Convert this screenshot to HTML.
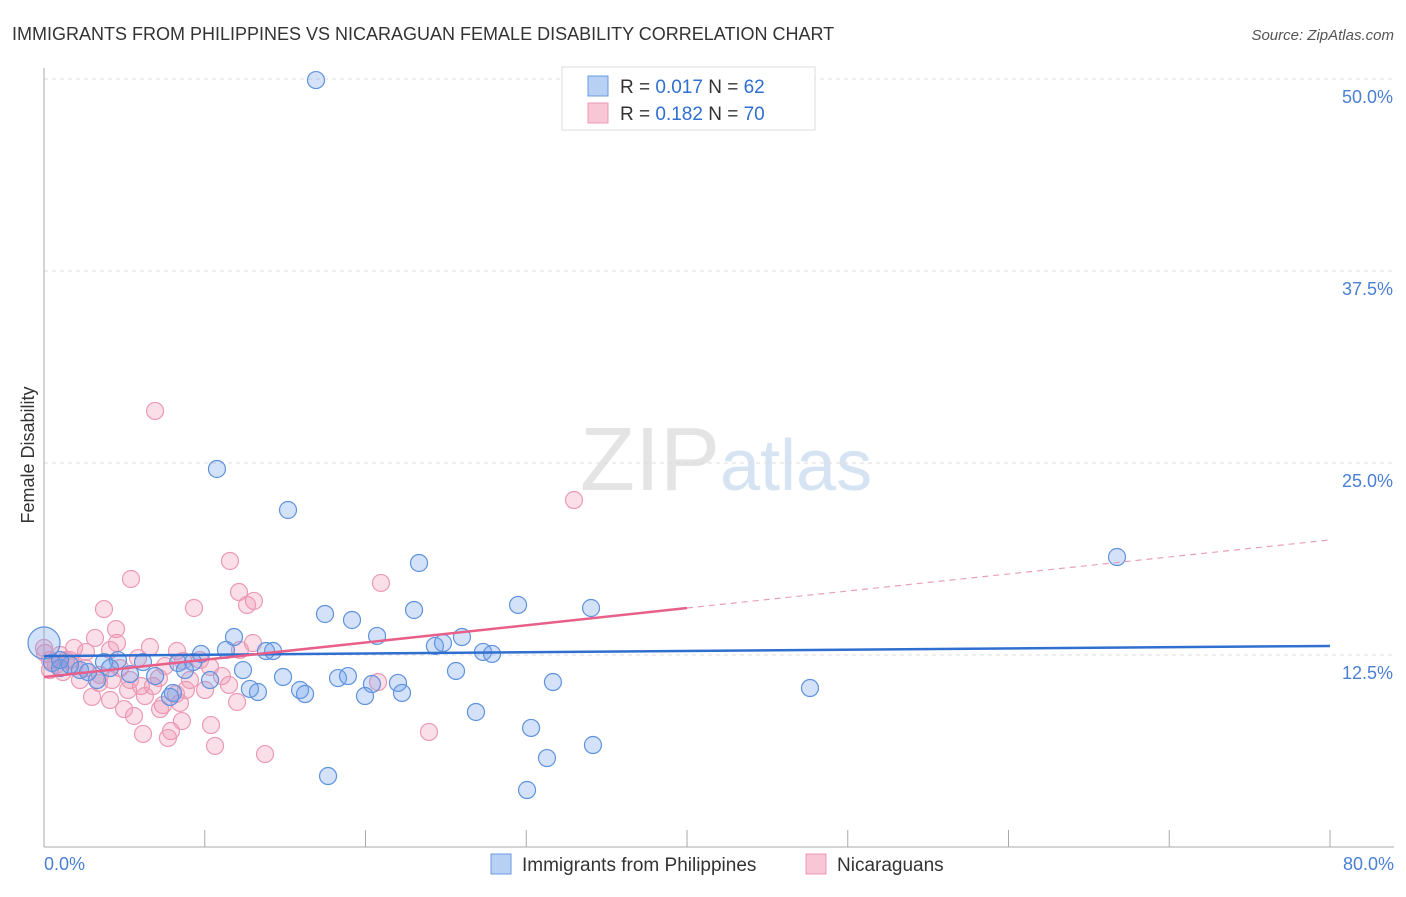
<!DOCTYPE html>
<html><head><meta charset="utf-8"><style>
body{margin:0;background:#fff;font-family:"Liberation Sans",sans-serif}
svg text{font-family:"Liberation Sans",sans-serif}
</style></head><body>
<svg id="chart" width="1406" height="892" xmlns="http://www.w3.org/2000/svg">
<text x="12" y="40" font-size="18" fill="#333">IMMIGRANTS FROM PHILIPPINES VS NICARAGUAN FEMALE DISABILITY CORRELATION CHART</text>
<text x="1394" y="40" font-size="15" fill="#555" text-anchor="end" font-style="italic">Source: ZipAtlas.com</text>
<text x="720" y="490" font-size="90" fill="#e4e4e4" text-anchor="end" font-family="Liberation Serif">ZIP</text>
<text x="720" y="490" font-size="72" fill="#d5e3f3">atlas</text>
<g id="grid"></g><g id="axes"></g><g id="pts"></g><g id="lines"></g>
<text x="34" y="455" font-size="18" fill="#333" transform="rotate(-90 34 455)" text-anchor="middle">Female Disability</text>
<text x="44" y="870" font-size="18" fill="#4a7fd4">0.0%</text>
<text x="1394" y="870" font-size="18" fill="#4a7fd4" text-anchor="end">80.0%</text>
<g>
<rect x="562" y="67" width="253" height="63" fill="#fff" stroke="#ddd"/>
<rect x="588" y="76" width="20" height="20" fill="#b7d0f3" stroke="#6a9ae0"/>
<rect x="588" y="103" width="20" height="20" fill="#f8c6d5" stroke="#ec9ab4"/>
<text x="620" y="93" font-size="19" fill="#333">R = <tspan fill="#2f6fd0">0.017</tspan>   N = <tspan fill="#2f6fd0">62</tspan></text>
<text x="620" y="120" font-size="19" fill="#333">R = <tspan fill="#2f6fd0"> 0.182</tspan>   N = <tspan fill="#2f6fd0">70</tspan></text>
</g>
<g>
<rect x="491" y="854" width="20" height="20" fill="#b7d0f3" stroke="#6a9ae0"/>
<text x="522" y="871" font-size="19" fill="#333">Immigrants from Philippines</text>
<rect x="806" y="854" width="20" height="20" fill="#f8c6d5" stroke="#ec9ab4"/>
<text x="837" y="871" font-size="19" fill="#333">Nicaraguans</text>
</g>
</svg>
<script>
const yTicks=[12.5,25,37.5,50];
const xTicks=[0,10,20,30,40,50,60,70,80];
const bluePx=[[316,80],[217,469],[288,510],[419,563],[1117,557],[518,605],[591,608],[414,610],[325,614],[352,620],[377,636],[462,637],[435,646],[443,643],[483,652],[492,654],[234,637],[226,650],[201,654],[266,651],[273,651],[118,660],[143,662],[104,662],[178,663],[193,662],[52,663],[60,668],[80,670],[70,665],[130,674],[155,676],[185,670],[210,680],[243,670],[283,677],[300,690],[305,694],[338,678],[348,676],[372,684],[398,683],[402,693],[365,696],[250,689],[258,692],[173,693],[170,697],[97,680],[456,671],[553,682],[810,688],[476,712],[531,728],[593,745],[547,758],[328,776],[527,790],[110,668],[88,672],[60,660]];
const pinkPx=[[155,411],[574,500],[230,561],[381,583],[131,579],[239,592],[254,601],[247,605],[104,609],[194,608],[116,629],[95,638],[117,643],[150,647],[177,651],[253,643],[110,650],[74,648],[86,652],[138,658],[165,666],[183,661],[60,655],[50,660],[45,653],[74,666],[120,668],[99,683],[112,680],[128,690],[141,686],[153,686],[159,678],[186,690],[176,694],[205,690],[210,667],[222,676],[145,696],[163,705],[124,709],[92,697],[160,709],[180,703],[182,721],[134,716],[211,725],[171,731],[143,734],[168,738],[215,746],[265,754],[237,702],[378,682],[429,732],[56,665],[66,660],[85,668],[100,675],[130,680],[190,680],[63,672],[80,680],[110,700],[200,660],[229,685],[50,670],[70,660],[240,650],[44,648]];
// convert sampled readings into data values (% units)
const blueX=bluePx.map(p=>+((p[0]-44)/16.075).toFixed(2));
const blueY=bluePx.map(p=>+((847-p[1])/15.36).toFixed(2));
const pinkX=pinkPx.map(p=>+((p[0]-44)/16.075).toFixed(2));
const pinkY=pinkPx.map(p=>+((847-p[1])/15.36).toFixed(2));
const blueTrend=[[0,12.43],[80,13.09]];
const pinkTrend=[[0,11.07],[40,15.56],[80,19.99]];
const sx=v=>44+v*16.075, sy=v=>847-v*15.36;
const NS="http://www.w3.org/2000/svg";
function mk(tag,attrs,parent){const e=document.createElementNS(NS,tag);for(const k in attrs)e.setAttribute(k,attrs[k]);document.getElementById(parent).appendChild(e);return e;}
yTicks.forEach(t=>{
 const l=mk('line',{x1:44,x2:1394,y1:sy(t),y2:sy(t),stroke:'#ddd','stroke-dasharray':'4,4'},'grid');
 
 
 const tx=mk('text',{x:1393,y:sy(t)+24,'font-size':18,fill:'#4a7fd4','text-anchor':'end'},'grid');
 tx.textContent=t.toFixed(1)+'%';
 
 
});
const ax=mk('line',{x1:44,x2:44,y1:68,y2:847,stroke:'#aaa'},'axes');


const bx=mk('line',{x1:44,x2:1394,y1:847,y2:847,stroke:'#aaa'},'axes');


xTicks.forEach(t=>{
 const l=mk('line',{x1:sx(t),x2:sx(t),y1:830,y2:847,stroke:'#aaa'},'axes');
 
 
});
function dots(xs,ys,fill,stroke,name){
 xs.forEach((x,i)=>{
  const c=mk('circle',{cx:sx(x),cy:sy(ys[i]),r:8.5,fill:fill,stroke:stroke,'stroke-width':1.2},'pts');
  
  
 });
}
dots(pinkX,pinkY,'rgba(240,150,180,0.3)','#ec9ab4','nicaraguans-point');
dots(blueX,blueY,'rgba(110,160,235,0.3)','#5f92dd','philippines-point');
const big=mk('circle',{cx:sx(0),cy:sy(13.28),r:16,fill:'rgba(110,160,235,0.3)',stroke:'#5f92dd','stroke-width':1.2},'pts');


const bl=mk('line',{x1:sx(blueTrend[0][0]),y1:sy(blueTrend[0][1]),x2:sx(blueTrend[1][0]),y2:sy(blueTrend[1][1]),stroke:'#2f6fd0','stroke-width':2.5},'lines');


const pl=mk('line',{x1:sx(pinkTrend[0][0]),y1:sy(pinkTrend[0][1]),x2:sx(pinkTrend[1][0]),y2:sy(pinkTrend[1][1]),stroke:'#e8608a','stroke-width':2.5},'lines');


const pd=mk('line',{x1:sx(pinkTrend[1][0]),y1:sy(pinkTrend[1][1]),x2:sx(pinkTrend[2][0]),y2:sy(pinkTrend[2][1]),stroke:'#e8a0b8','stroke-width':1.2,'stroke-dasharray':'6,5'},'lines');


</script>
</body></html>
